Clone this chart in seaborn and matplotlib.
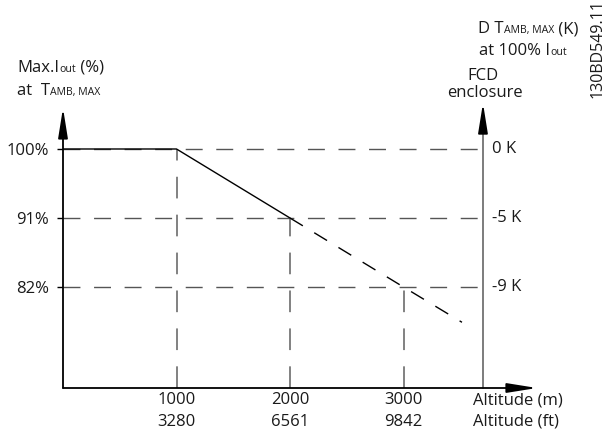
import matplotlib
matplotlib.use("Agg")
import matplotlib.pyplot as plt
import seaborn as sns
import pandas as pd

# ---- data ----
altitude_m_ticks = [1000, 2000, 3000]
altitude_ft_ticks = [3280, 6561, 9842]
current_levels = [100, 91, 82]
current_labels = ["100%", "91%", "82%"]
delta_t_labels = ["0 K", "-5 K", "-9 K"]
derate_alt = [0, 1000, 2000]
derate_pct = [100, 100, 91]
extend_alt = [2000, 3000, 3515]
extend_pct = [91, 82, 77.4]
right_axis_alt = 3700

sns.set_theme(style="white")
plt.rcParams["font.family"] = ["Open Sans", "DejaVu Sans"]
TXT = "#1a1a1a"
FS = 12
SMALL = 7.6

W, H = 606, 432
fig = plt.figure(figsize=(W / 100, H / 100), dpi=100)
ax = fig.add_axes([63 / W, 1 - 388 / H, (537 - 63) / W, (388 - 100) / H])
ax.set_xlim(0, 4176)
ymin, ymax = 68.83, 106.39
ax.set_ylim(ymin, ymax)
for s in ax.spines.values():
    s.set_visible(False)
ax.grid(False)

# dashed reference lines
for lvl in current_levels:
    ax.plot([0, right_axis_alt], [lvl, lvl], color="#555555", lw=1.0,
            linestyle=(0, (12.2, 9.8)), zorder=1)
for m, lvl in zip(altitude_m_ticks, current_levels):
    ax.plot([m, m], [ymin, lvl], color="#777777", lw=1.3,
            linestyle=(0, (12, 9)), zorder=1)

# derating curve
df_main = pd.DataFrame({"alt": derate_alt, "pct": derate_pct})
df_ext = pd.DataFrame({"alt": extend_alt, "pct": extend_pct})
sns.lineplot(data=df_main, x="alt", y="pct", ax=ax, color="black", lw=1.0,
             estimator=None, sort=False, zorder=3)
sns.lineplot(data=df_ext, x="alt", y="pct", ax=ax, color="black", lw=1.0,
             linestyle=(0, (10.8, 9.6)), estimator=None, sort=False, zorder=3)
ax.set_xlabel("")
ax.set_ylabel("")

# axes with arrows
arrow_kw = dict(arrowstyle="-|>,head_length=1.0,head_width=0.16",
                mutation_scale=18, lw=1.3, shrinkA=0, shrinkB=0)
ax.annotate("", xy=(0, 105.35), xytext=(0, ymin), annotation_clip=False,
            arrowprops=dict(color="black", **arrow_kw))
# right axis: grey shaft, black head
ax.plot([right_axis_alt, right_axis_alt], [ymin, 103.2], color="#666666",
        lw=1.2, clip_on=False, zorder=2)
ax.annotate("", xy=(right_axis_alt, 105.99), xytext=(right_axis_alt, 102.9),
            annotation_clip=False,
            arrowprops=dict(color="black", **arrow_kw))
ax.annotate("", xy=(4176, ymin), xytext=(0, ymin), annotation_clip=False,
            arrowprops=dict(color="black", **arrow_kw))

# ticks
ax.set_yticks(current_levels, current_labels)
ax.tick_params(axis="y", left=True, length=4.3, width=1.0, color="black",
               pad=6, labelsize=FS, labelcolor=TXT, direction="out")
ax.set_xticks(altitude_m_ticks,
              [f"{m}\n{ft}" for m, ft in zip(altitude_m_ticks, altitude_ft_ticks)])
ax.tick_params(axis="x", bottom=True, length=0, pad=3, labelsize=FS,
               labelcolor=TXT)
for lbl in ax.get_xticklabels():
    lbl.set_linespacing(1.45)

for lvl, lab in zip(current_levels, delta_t_labels):
    ax.annotate(lab, xy=(right_axis_alt, lvl), xytext=(6.5, 0),
                textcoords="offset points", ha="left", va="center",
                fontsize=FS, color=TXT, annotation_clip=False)

ax.annotate("Altitude (m)\nAltitude (ft)", xy=(3612, ymin), xytext=(0, -3),
            textcoords="offset points", ha="left", va="top", fontsize=FS,
            color=TXT, linespacing=1.45, annotation_clip=False)

# composite texts with small caps parts
renderer = fig.canvas.get_renderer()


def runs(x_px, y_px, parts, center=False):
    texts = []
    x = 0.0
    for s, size in parts:
        t = fig.text(0, 0, s, fontsize=size, color=TXT, ha="left",
                     va="baseline")
        w = t.get_window_extent(renderer=renderer).width
        texts.append((t, x))
        x += w
    start = x_px - x / 2 if center else x_px
    for t, off in texts:
        t.set_position(((start + off) / W, 1 - y_px / H))


runs(17, 72, [("Max.I", FS), ("out", SMALL), (" (%)", FS)])
runs(17, 95, [("at  T", FS), ("AMB, MAX", SMALL)])
runs(478, 33, [("D T", FS), ("AMB, MAX", SMALL), (" (K)", FS)])
runs(479, 55, [("at 100% I", FS), ("out", SMALL)])
fig.text(483 / W, 1 - 80 / H, "FCD", fontsize=FS, color=TXT, ha="center",
         va="baseline")
fig.text(485 / W, 1 - 97 / H, "enclosure", fontsize=FS, color=TXT,
         ha="center", va="baseline")
fig.text(598 / W, 1 - 49 / H, "130BD549.11", fontsize=11.5, color=TXT,
         rotation=90, ha="center", va="center")

fig.savefig("out.png", dpi=100)
